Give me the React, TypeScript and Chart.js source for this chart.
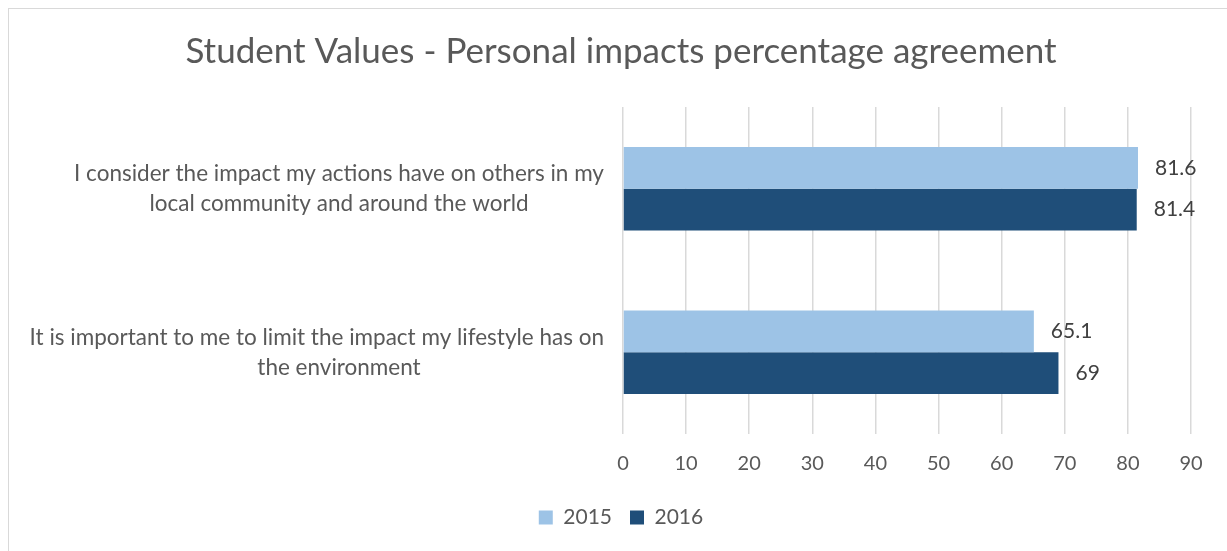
import React, { useEffect, useRef } from "react";
import { Chart, registerables } from "chart.js";

Chart.register(...registerables);

const TITLE = "Student Values - Personal impacts percentage agreement";
const categories: string[][] = [
  ["I consider the impact my actions have on others in my", "local community and around the world"],
  ["It is important to me to limit the impact my lifestyle has on", "the environment"],
];
const seriesNames = ["2015", "2016"];
const values2015 = [81.6, 65.1];
const values2016 = [81.4, 69];
const xTicks = [0, 10, 20, 30, 40, 50, 60, 70, 80, 90];

const FONT = "Lato";
const TEXT = "#595959";

const labelPlugin = {
  id: "customLabels",
  afterDatasetsDraw(chart: any) {
    const ctx = chart.ctx;
    ctx.save();
    // data labels
    ctx.font = `21px ${FONT}`;
    ctx.fillStyle = "#404040";
    ctx.textAlign = "left";
    ctx.textBaseline = "middle";
    chart.data.datasets.forEach((ds: any, di: number) => {
      const meta = chart.getDatasetMeta(di);
      meta.data.forEach((bar: any, i: number) => {
        ctx.fillText(String(ds.data[i]), bar.x + 17, bar.y);
      });
    });
    // category labels
    const y = chart.scales.y;
    ctx.font = `22.5px ${FONT}`;
    ctx.fillStyle = TEXT;
    ctx.textAlign = "center";
    const centerX = 330;
    const rightLimit = 595;
    categories.forEach((lines, i) => {
      const cy = y.getPixelForValue(i);
      const lh = 30;
      const start = cy - ((lines.length - 1) * lh) / 2;
      lines.forEach((ln, j) => {
        const w = ctx.measureText(ln).width;
        const cx = Math.min(centerX, rightLimit - w / 2);
        ctx.fillText(ln, cx, start + j * lh);
      });
    });
    ctx.restore();
  },
};

export default function App() {
  const ref = useRef<HTMLCanvasElement | null>(null);
  useEffect(() => {
    if (!ref.current) return;
    const chart = new Chart(ref.current, {
      type: "bar",
      data: {
        labels: categories.map((c) => c.join(" ")),
        datasets: [
          {
            label: seriesNames[0],
            data: values2015,
            backgroundColor: "#9DC3E6",
            borderWidth: 0,
            barPercentage: 1,
            categoryPercentage: 0.512,
          },
          {
            label: seriesNames[1],
            data: values2016,
            backgroundColor: "#1F4E79",
            borderWidth: 0,
            barPercentage: 1,
            categoryPercentage: 0.512,
          },
        ],
      },
      options: {
        indexAxis: "y",
        animation: false,
        responsive: false,
        maintainAspectRatio: false,
        layout: { padding: { left: 42, right: 36, top: 0, bottom: 13 } },
        plugins: {
          title: {
            display: true,
            text: TITLE,
            color: TEXT,
            font: { family: FONT, size: 35, weight: "normal" },
            padding: { top: 22, bottom: 34 },
          },
          legend: {
            position: "bottom",
            labels: {
              boxWidth: 14,
              boxHeight: 14,
              color: TEXT,
              font: { family: FONT, size: 21 },
              padding: 18,
            },
          },
          tooltip: { enabled: false },
        },
        scales: {
          x: {
            min: 0,
            max: 90,
            afterBuildTicks: (s: any) => {
              s.ticks = xTicks.map((v) => ({ value: v }));
            },
            ticks: { color: TEXT, font: { family: FONT, size: 20 }, padding: 18 },
            grid: { color: "#d9d9d9", lineWidth: 1.5, drawTicks: false },
            border: { display: false },
            afterFit: (s: any) => {
              s.height = 55;
            },
          },
          y: {
            ticks: { display: false },
            grid: { display: false },
            border: { display: false },
            afterFit: (s: any) => {
              s.width = 572;
            },
          },
        },
      },
      plugins: [labelPlugin],
    } as any);
    return () => chart.destroy();
  }, []);
  return (
    <div
      style={{
        position: "fixed",
        left: 8,
        top: 8,
        width: 1218,
        height: 542,
        borderLeft: "1px solid #d9d9d9",
        borderTop: "1px solid #d9d9d9",
        background: "#fff",
      }}
    >
      <canvas ref={ref} width={1218} height={542} style={{ display: "block" }} />
    </div>
  );
}
